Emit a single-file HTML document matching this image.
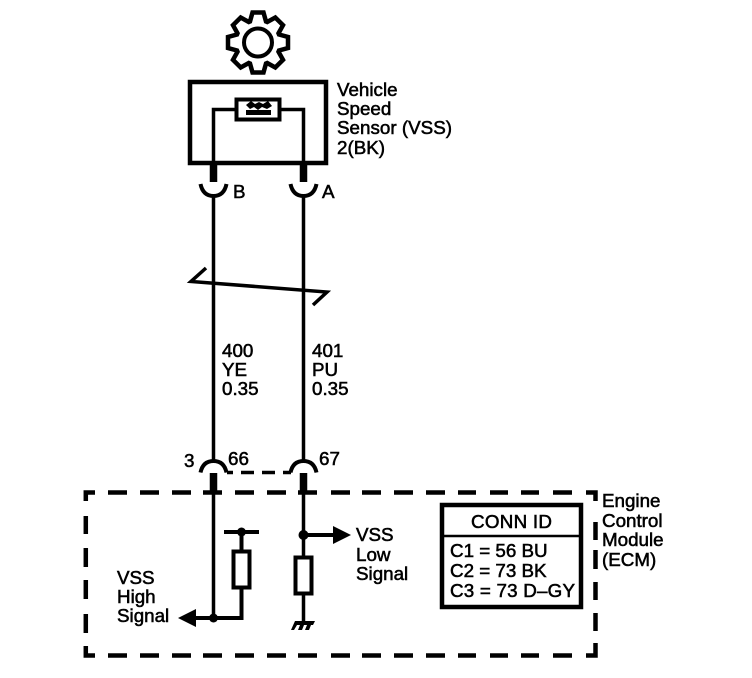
<!DOCTYPE html>
<html><head><meta charset="utf-8"><style>
html,body{margin:0;padding:0;background:#fff}
svg{display:block}
text{font-family:"Liberation Sans",sans-serif;font-size:18.8px;fill:#000;stroke:#000;stroke-width:.55}
</style></head><body>
<svg width="752" height="678" viewBox="0 0 752 678" xmlns="http://www.w3.org/2000/svg">
<rect width="752" height="678" fill="#fff"/>
<g fill="none" stroke="#000" stroke-width="3.500">
<!-- gear -->
<g transform="translate(258,42.500)">
<path stroke-width="4.500" stroke-linejoin="miter" d="M21 -8L30 -5.500L30 5.500L21 8L20.500 9.200L25 17.300L17.300 25L9.200 20.500L8 21L5.500 30L-5.500 30L-8 21L-9.200 20.500L-17.300 25L-25 17.300L-20.500 9.200L-21 8L-30 5.500L-30 -5.500L-21 -8L-20.500 -9.200L-25 -17.300L-17.300 -25L-9.200 -20.500L-8 -21L-5.500 -30L5.500 -30L8 -21L9.200 -20.500L17.300 -25L25 -17.300L20.500 -9.200Z"/>
<circle r="14" stroke-width="4"/>
</g>
<!-- sensor box -->
<rect x="190" y="82" width="136" height="81" stroke-width="4.500"/>
<path d="M213.500 165V109.500H236M279 109.500H303.500V165"/>
<rect x="236.500" y="99.500" width="43" height="20" stroke-width="4"/>
<!-- stubs -->
<path stroke-width="7.500" d="M213.500 165V182M303.500 165V182M213.500 473V492M303.500 473V492"/>
<!-- upper forks -->
<path stroke-width="4" d="M200.500 184Q203 196 213.500 196Q224 196 226.500 184M290.500 184Q293 196 303.500 196Q314 196 316.500 184"/>
<!-- main wires -->
<path d="M213.500 196V461M303.500 196V461"/>
<!-- slash -->
<path stroke-width="3.500" d="M206 268L191 281.500L327 292L313 305"/>
<!-- lower sockets -->
<path stroke-width="4" d="M200.500 472.500Q203 461 213.500 461Q224 461 226.500 472.500M290.500 472.500Q293 461 303.500 461Q314 461 316.500 472.500"/>
<path stroke-width="3.500" d="M227 472.500H233M241 472.500H254M262 472.500H275M283 472.500H291"/>
<!-- ECM dashed border -->
<path stroke-width="4.500" d="M95 492.500H85.800V501M108 492.500H127M140 492.500H159M172 492.500H191M203 492.500H222M235 492.500H254M267 492.500H286M298 492.500H317M331 492.500H350M362 492.500H381M394 492.500H413M426 492.500H445M458 492.500H476M490 492.500H508M521 492.500H539M553 492.500H572M586 492.500H595.500V501"/>
<path stroke-width="4.500" d="M85.800 516V534M85.800 548V567M85.800 580V599M85.800 614V633M85.800 646V655.500H95M595.500 522V540M595.500 550V569M595.500 582V600M595.500 613V631M595.500 643V655.500H586"/>
<path stroke-width="4.500" d="M108 655.500H127M140 655.500H159M172 655.500H191M203 655.500H222M235 655.500H254M267 655.500H286M298 655.500H317M331 655.500H350M362 655.500H381M394 655.500H413M426 655.500H445M458 655.500H476M490 655.500H508M521 655.500H539M553 655.500H572"/>
<!-- interior wiring -->
<path d="M213.500 490V618M303.500 490V556M303.500 595V622"/>
<path stroke-width="4" d="M194 618H241.500V589M241.500 550V532M224 532H259M303.500 535H335"/>
<rect x="233.500" y="551.500" width="16" height="36" stroke-width="4"/>
<rect x="295.500" y="557.500" width="16" height="36" stroke-width="4"/>
<!-- conn box -->
<rect x="442" y="505" width="139" height="102" stroke-width="4.500"/>
<path stroke-width="2.500" d="M442 536H581"/>
</g>
<g fill="#000" stroke="none">
<!-- sensor symbol -->
<path d="M246 110H271V115H246ZM246 105L251 101L255 104L259 102L263 104L268 101L272 106L267 109L262 107L258 110L254 107L250 109Z"/>
<circle cx="213.500" cy="618" r="4.500"/>
<circle cx="241.500" cy="532" r="4.500"/>
<circle cx="303.500" cy="535" r="5"/>
<path d="M178 618L196 609V627Z"/>
<path d="M351 535L333 526V544Z"/>
<!-- ground -->
<path d="M295 621H315L313 625H311L309 630H305L307 625H304L302 630H298L300 625H297L294 630H291Z"/>
</g>
<text x="337" y="96">Vehicle</text>
<text x="337" y="115">Speed</text>
<text x="337" y="134" textLength="115">Sensor (VSS)</text>
<text x="337" y="154">2(BK)</text>
<text x="233" y="198">B</text>
<text x="322" y="198">A</text>
<text x="222" y="357">400</text>
<text x="222" y="376">YE</text>
<text x="222" y="395">0.35</text>
<text x="312" y="357">401</text>
<text x="312" y="376">PU</text>
<text x="312" y="395">0.35</text>
<text x="184" y="467">3</text>
<text x="228" y="465">66</text>
<text x="319" y="465">67</text>
<text x="356" y="541">VSS</text>
<text x="356" y="561">Low</text>
<text x="356" y="580">Signal</text>
<text x="117" y="584">VSS</text>
<text x="117" y="603">High</text>
<text x="117" y="622">Signal</text>
<text x="602" y="507">Engine</text>
<text x="602" y="527">Control</text>
<text x="602" y="546">Module</text>
<text x="602" y="566">(ECM)</text>
<text x="471" y="528" textLength="81">CONN ID</text>
<text x="450" y="557">C1 = 56 BU</text>
<text x="450" y="577">C2 = 73 BK</text>
<text x="450" y="597" textLength="125">C3 = 73 D–GY</text>
</svg>
</body></html>
